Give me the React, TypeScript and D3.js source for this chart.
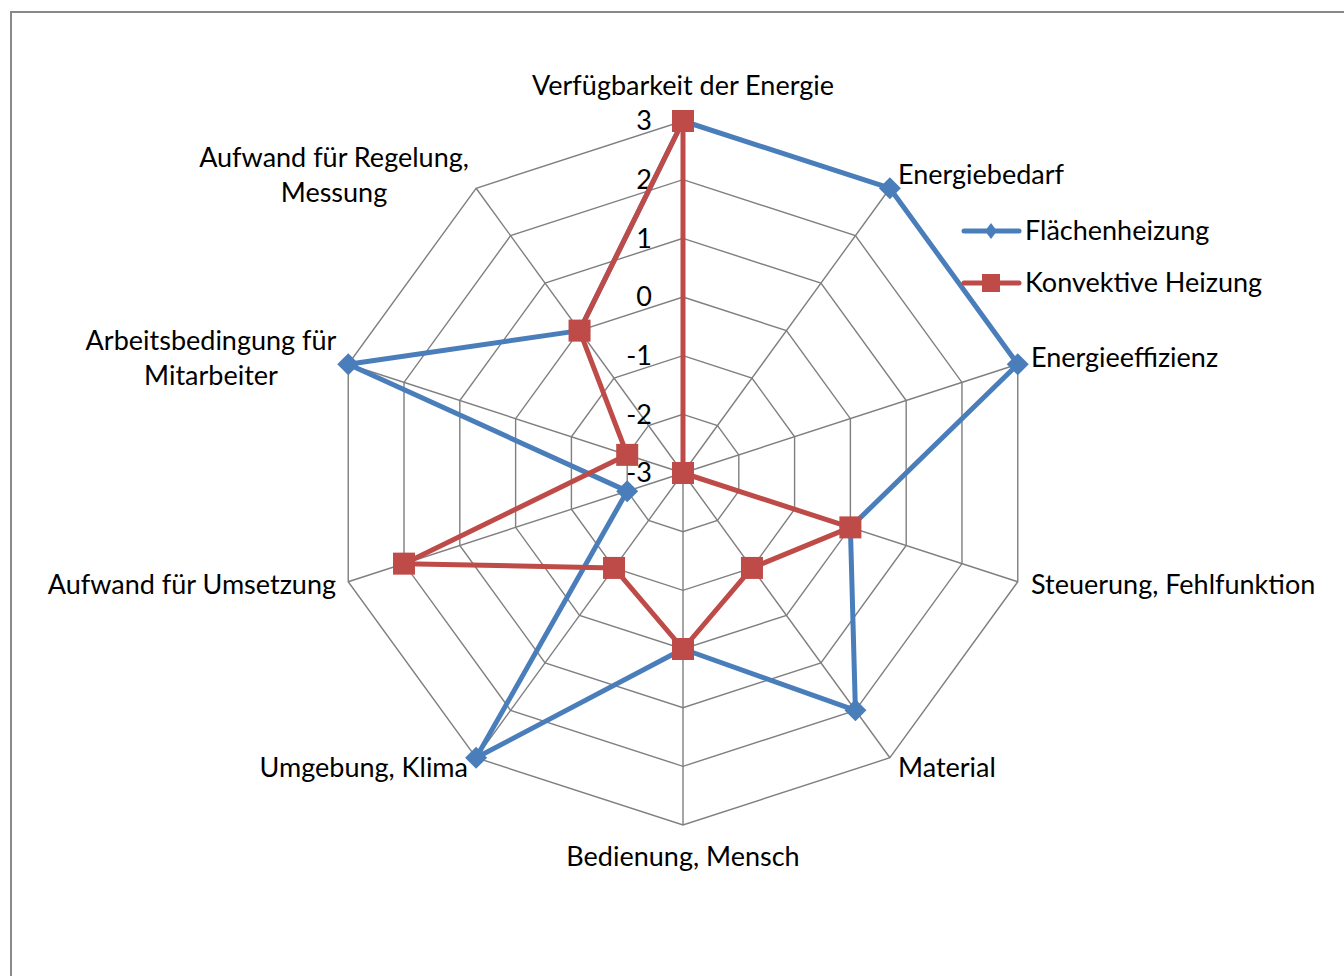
import React, { useEffect, useRef } from "react";
import * as d3 from "d3";

const categories = [
  "Verfügbarkeit der Energie",
  "Energiebedarf",
  "Energieeffizienz",
  "Steuerung, Fehlfunktion",
  "Material",
  "Bedienung, Mensch",
  "Umgebung, Klima",
  "Aufwand für Umsetzung",
  "Arbeitsbedingung für Mitarbeiter",
  "Aufwand für Regelung, Messung",
];

const flaechenheizung = [3, 3, 3, 0, 2, 0, 3, -2, 3, 0];
const konvektiveHeizung = [3, -3, -3, 0, -1, 0, -1, 2, -2, 0];
const ticks = [-3, -2, -1, 0, 1, 2, 3];

const seriesNames = ["Flächenheizung", "Konvektive Heizung"];
const BLUE = "#4A7EBB";
const RED = "#BE4B48";

export default function App() {
  const ref = useRef<SVGSVGElement>(null);

  useEffect(() => {
    const svg = d3.select(ref.current);
    svg.selectAll("*").remove();

    const cx = 683, cy = 473;
    const font = "Lato, 'Open Sans', sans-serif";
    const fs = 27;

    const r = d3.scaleLinear().domain([-3, 3]).range([0, 352]);
    const angle = d3.scaleLinear().domain([0, categories.length]).range([0, 2 * Math.PI]);

    const pt = (i: number, v: number): [number, number] => {
      const a = angle(i);
      return [cx + r(v) * Math.sin(a), cy - r(v) * Math.cos(a)];
    };

    // frame
    svg.append("rect")
      .attr("x", 11).attr("y", 12)
      .attr("width", 1400).attr("height", 1000)
      .attr("fill", "white")
      .attr("stroke", "#898989")
      .attr("stroke-width", 2);

    const g = svg.append("g");

    // rings
    ticks.slice(1).forEach(t => {
      const pts = categories.map((_, i) => pt(i, t));
      g.append("polygon")
        .attr("points", pts.map(p => p.join(",")).join(" "))
        .attr("fill", "none")
        .attr("stroke", "#7f7f7f")
        .attr("stroke-width", 1.4);
    });

    // spokes
    categories.forEach((_, i) => {
      const [x, y] = pt(i, 3);
      g.append("line")
        .attr("x1", cx).attr("y1", cy)
        .attr("x2", x).attr("y2", y)
        .attr("stroke", "#7f7f7f")
        .attr("stroke-width", 1.4);
    });

    // tick labels
    ticks.forEach(t => {
      g.append("text")
        .attr("x", 652)
        .attr("y", cy - r(t))
        .attr("dy", "0.35em")
        .attr("text-anchor", "end")
        .attr("font-family", font)
        .attr("font-size", fs)
        .attr("fill", "#000")
        .text(t);
    });

    // category labels
    const labelLayout: { lines: string[]; x: number; y: number; anchor: string }[] = [
      { lines: [categories[0]], x: 683, y: 86, anchor: "middle" },
      { lines: [categories[1]], x: 898, y: 175, anchor: "start" },
      { lines: [categories[2]], x: 1031, y: 358, anchor: "start" },
      { lines: [categories[3]], x: 1031, y: 585, anchor: "start" },
      { lines: [categories[4]], x: 898, y: 768, anchor: "start" },
      { lines: [categories[5]], x: 683, y: 857, anchor: "middle" },
      { lines: [categories[6]], x: 468, y: 768, anchor: "end" },
      { lines: [categories[7]], x: 336, y: 585, anchor: "end" },
      { lines: ["Arbeitsbedingung für", "Mitarbeiter"], x: 211, y: 341, anchor: "middle" },
      { lines: ["Aufwand für Regelung,", "Messung"], x: 334, y: 158, anchor: "middle" },
    ];
    labelLayout.forEach(l => {
      l.lines.forEach((line, k) => {
        g.append("text")
          .attr("x", l.x)
          .attr("y", l.y + k * 35)
          .attr("dy", "0.35em")
          .attr("text-anchor", l.anchor)
          .attr("font-family", font)
          .attr("font-size", fs)
          .attr("fill", "#000")
          .text(line);
      });
    });

    const lineGen = d3.line<number>()
      .x((v, i) => pt(i, v)[0])
      .y((v, i) => pt(i, v)[1])
      .curve(d3.curveLinearClosed);

    const diamond = (s: number) => `M0,${-s}L${s},0L0,${s}L${-s},0Z`;

    // blue series
    g.append("path")
      .attr("d", lineGen(flaechenheizung))
      .attr("fill", "none")
      .attr("stroke", BLUE)
      .attr("stroke-width", 5)
      .attr("stroke-linejoin", "round");
    flaechenheizung.forEach((v, i) => {
      const [x, y] = pt(i, v);
      g.append("path")
        .attr("d", diamond(11))
        .attr("transform", `translate(${x},${y})`)
        .attr("fill", BLUE);
    });

    // red series
    g.append("path")
      .attr("d", lineGen(konvektiveHeizung))
      .attr("fill", "none")
      .attr("stroke", RED)
      .attr("stroke-width", 5)
      .attr("stroke-linejoin", "round");
    konvektiveHeizung.forEach((v, i) => {
      const [x, y] = pt(i, v);
      g.append("rect")
        .attr("x", x - 11).attr("y", y - 11)
        .attr("width", 22).attr("height", 22)
        .attr("fill", RED);
    });

    // legend
    const legend = g.append("g");
    seriesNames.forEach((name, k) => {
      const y = 231 + k * 52;
      const color = k === 0 ? BLUE : RED;
      legend.append("line")
        .attr("x1", 964).attr("x2", 1019)
        .attr("y1", y).attr("y2", y)
        .attr("stroke", color)
        .attr("stroke-width", 5)
        .attr("stroke-linecap", "round");
      if (k === 0) {
        legend.append("path")
          .attr("d", `M0,-8L6,0L0,8L-6,0Z`)
          .attr("transform", `translate(991,${y})`)
          .attr("fill", color);
      } else {
        legend.append("rect")
          .attr("x", 982).attr("y", y - 9)
          .attr("width", 18).attr("height", 18)
          .attr("fill", color);
      }
      legend.append("text")
        .attr("x", 1025)
        .attr("y", y)
        .attr("dy", "0.35em")
        .attr("font-family", font)
        .attr("font-size", fs)
        .attr("fill", "#000")
        .text(name);
    });
  }, []);

  return (
    <svg
      ref={ref}
      width={1344}
      height={976}
      style={{ position: "absolute", left: 0, top: 0, background: "white" }}
    />
  );
}
